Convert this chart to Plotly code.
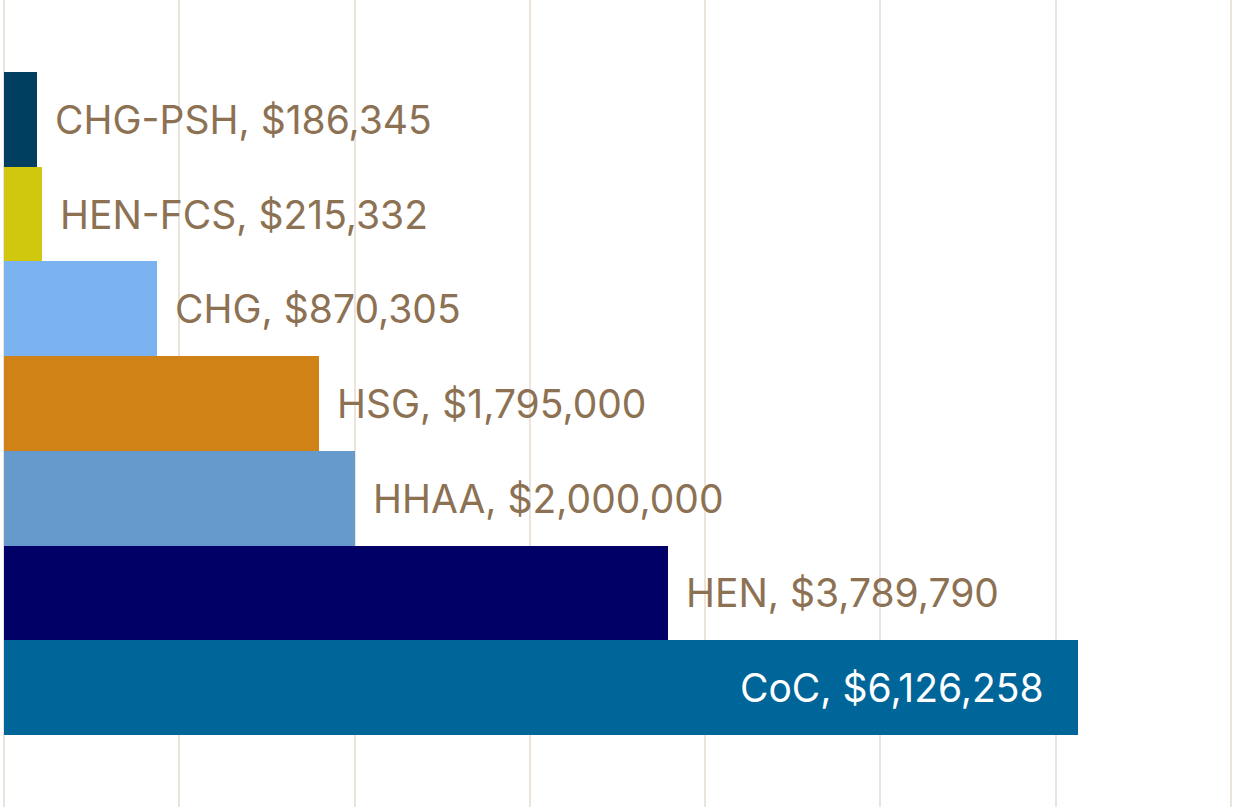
import plotly.graph_objects as go

categories = ["CoC", "HEN", "HHAA", "HSG", "CHG", "HEN-FCS", "CHG-PSH"]
values = [6126258, 3789790, 2000000, 1795000, 870305, 215332, 186345]
colors = ["#00669A", "#000066", "#6699CC", "#D18216", "#7AB3F0", "#D0C80F", "#003F5F"]
label_colors = ["#FFFFFF"] + ["#8C7153"] * 6
inside = [True, False, False, False, False, False, False]

fig = go.Figure()
fig.add_trace(go.Bar(
    y=categories, x=values, orientation="h",
    marker=dict(color=colors, line=dict(width=0)),
    hoverinfo="skip",
))

for c, v, col, ins in zip(categories, values, label_colors, inside):
    fig.add_annotation(
        x=v, y=c, xref="x", yref="y",
        text=f"{c}, ${v:,}",
        showarrow=False,
        xanchor="right" if ins else "left",
        xshift=-32 if ins else 16,
        font=dict(family="Inter, Noto Sans, sans-serif", size=39, color=col),
    )

fig.update_layout(
    width=1235, height=807,
    margin=dict(l=4, r=2, t=0, b=0),
    plot_bgcolor="white", paper_bgcolor="white",
    bargap=0, showlegend=False,
)
fig.update_xaxes(range=[0, 7011000], dtick=1000000, showgrid=True,
                 gridcolor="#EAE4DC", gridwidth=2, showticklabels=False,
                 zeroline=True, zerolinecolor="#EAE4DC", zerolinewidth=2,
                 showline=False)
fig.update_yaxes(range=[-1.262, 7.262], showticklabels=False, showgrid=False,
                 zeroline=False, showline=False)

fig.write_html("out.html", config={"displayModeBar": False},
               post_script="document.body.style.margin='0';document.body.style.overflow='hidden';")
